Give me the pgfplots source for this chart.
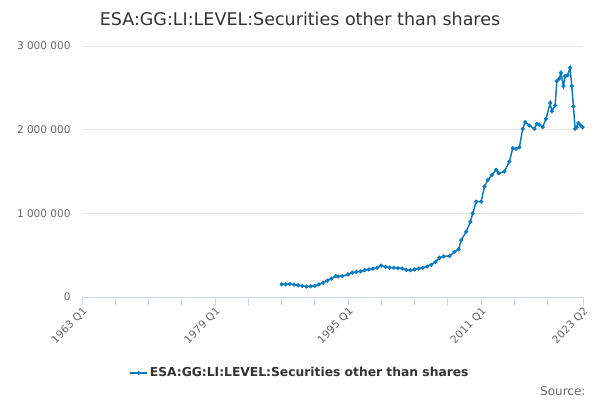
\documentclass[border=0pt]{standalone}
\usepackage{pgfplots}
\pgfplotsset{compat=1.18}
\usepackage{fontspec}
\setmainfont{DejaVu Sans}
\definecolor{ser}{HTML}{0A7BC1}
\definecolor{grid}{HTML}{E6E6E6}
\definecolor{axl}{HTML}{CCD6EB}
\definecolor{tl}{HTML}{666666}
\definecolor{tt}{HTML}{333333}
\begin{document}
\begin{tikzpicture}[x=1pt,y=1pt]
\useasboundingbox (0,0) rectangle (600,400);
\node[text=tt,font=\fontsize{17.5}{20}\selectfont] at (300,381) {ESA:GG:LI:LEVEL:Securities other than shares};
\node[text=tl,font=\fontsize{12}{14}\selectfont,anchor=east] at (589,9) {Source:};
\begin{axis}[
  scale only axis, width=501pt, height=251pt,
  at={(82pt,103pt)}, anchor=south west,
  xmin=1963, xmax=2023.25, ymin=0, ymax=3000000,
  axis x line*=bottom, axis y line*=left,
  x axis line style={axl,-,line width=0.8pt},
  y axis line style={draw=none},
  scaled y ticks=false,
  ytick={0,1000000,2000000,3000000},
  yticklabels={0,1 000 000,2 000 000,3 000 000},
  ymajorgrids, xmajorgrids=false,
  y grid style={grid,line width=0.8pt},
  xtick={1963,1979,1995,2011,2023.25},
  minor xtick={1967,1971,1975,1983,1987,1991,1999,2003,2007,2015,2019},
  xticklabels={1963 Q1,1979 Q1,1995 Q1,2011 Q1,2023 Q2},
  x tick label style={rotate=45,anchor=north east,text=tl,font=\fontsize{10.5}{12}\selectfont,inner sep=1pt},
  y tick label style={text=tl,font=\fontsize{10.5}{12}\selectfont},
  /pgf/number format/assume math mode=true,
  xtick style={axl,line width=0.8pt},
  minor x tick style={axl,line width=0.8pt},
  ytick style={draw=none},
  major tick length=8pt, minor tick length=8pt, tick align=outside,
  clip=false,
  legend style={at={(0.435,-0.303)},anchor=center,draw=none,fill=none,
    font=\fontsize{12.3}{14}\selectfont\bfseries,text=tt},
]
\addplot[ser,line width=1.5pt,mark=*,mark size=1.2pt] coordinates {
(1987.0,152000)(1987.5,150000)(1988,155000)(1988.5,148000)(1989,140000)(1989.5,132000)
(1990,125000)(1990.5,128000)(1991,135000)(1991.5,150000)(1992,170000)(1992.5,195000)
(1993,220000)(1993.5,250000)(1993.8,245000)(1994.3,250000)(1995,270000)(1995.5,290000)
(1996,300000)(1996.5,305000)(1997,320000)(1997.5,330000)(1998,340000)(1998.5,350000)
(1999,375000)(1999.5,360000)(2000,350000)(2000.5,350000)(2001,345000)(2001.5,340000)
(2002,325000)(2002.5,320000)(2003,330000)(2003.5,340000)(2004,350000)(2004.5,365000)
(2005,385000)(2005.5,420000)(2006,470000)(2006.5,485000)(2007.2,490000)(2007.8,540000)
(2008.3,570000)(2008.6,680000)(2009.2,780000)(2009.7,900000)(2010.0,1000000)(2010.4,1140000)
(2011.0,1140000)(2011.4,1320000)(2011.8,1400000)(2012.3,1460000)(2012.8,1520000)(2013.1,1480000)
(2013.8,1500000)(2014.4,1620000)(2014.8,1780000)(2015.2,1770000)(2015.6,1790000)(2016.0,2010000)
(2016.3,2090000)(2016.8,2050000)(2017.4,2010000)(2017.7,2070000)(2018.0,2060000)(2018.4,2030000)
(2018.8,2130000)(2019.3,2320000)(2019.5,2220000)(2019.9,2290000)(2020.1,2580000)(2020.4,2610000)
(2020.6,2680000)(2020.9,2520000)(2021.1,2640000)(2021.4,2650000)(2021.7,2740000)(2021.9,2520000)
(2022.1,2280000)(2022.3,2010000)(2022.5,2030000)(2022.7,2080000)(2023.0,2050000)(2023.2,2030000)
};
\addlegendentry{ESA:GG:LI:LEVEL:Securities other than shares}
\end{axis}
\end{tikzpicture}
\end{document}
